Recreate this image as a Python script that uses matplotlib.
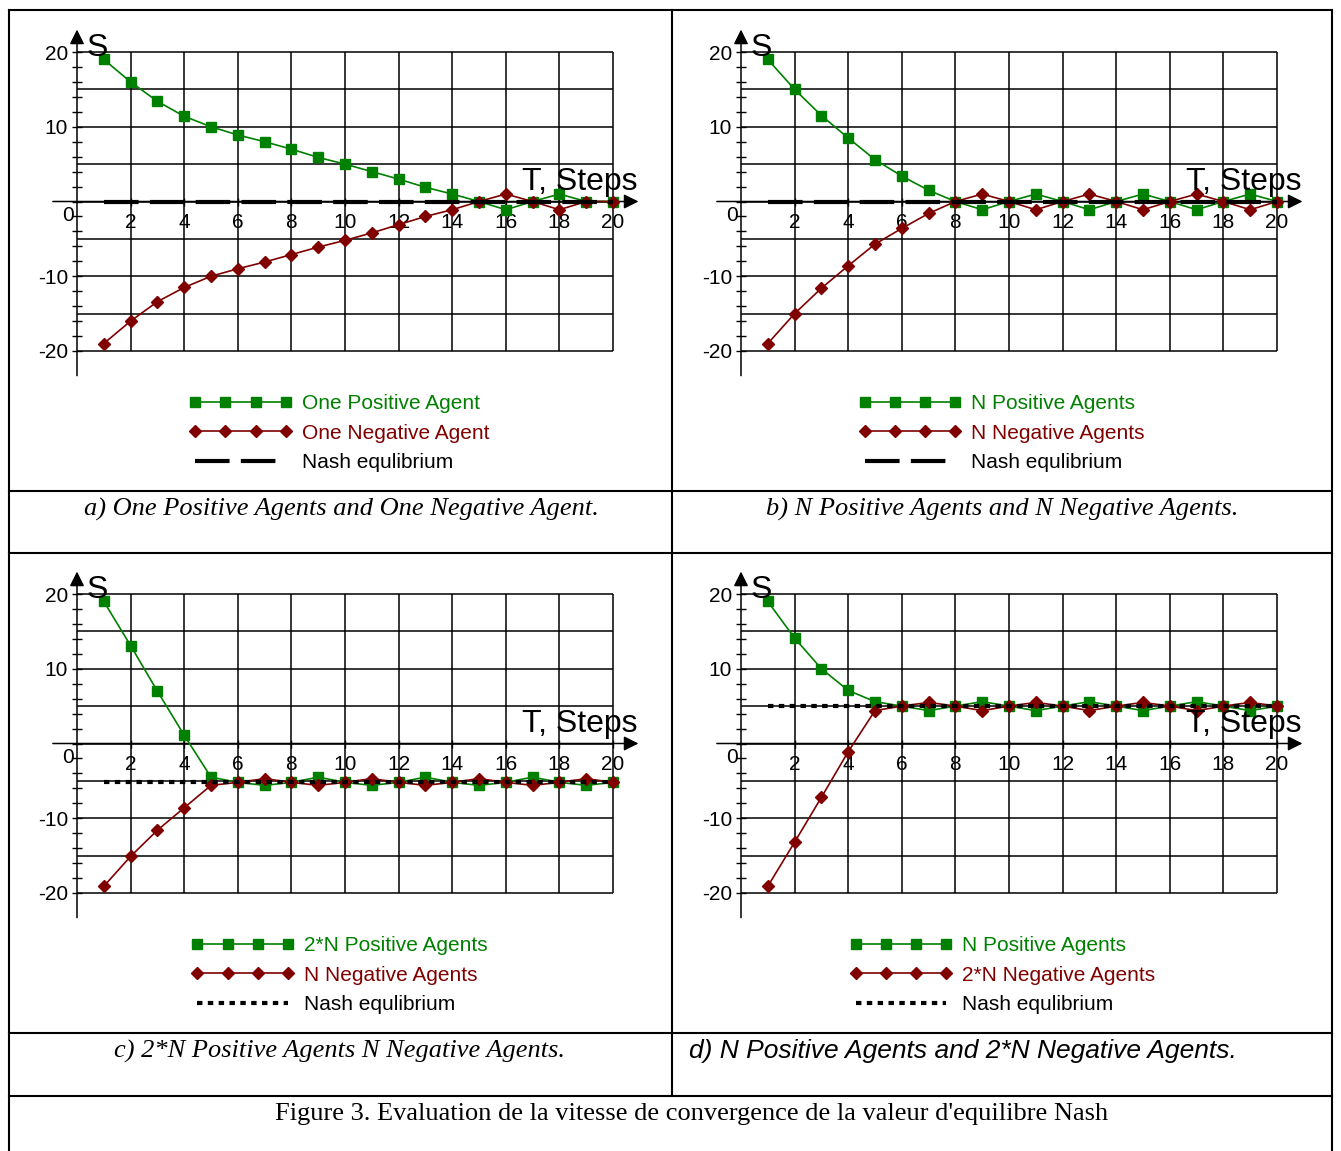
import numpy as np
import matplotlib.pyplot as plt
from matplotlib.lines import Line2D

plt.rcParams['font.family'] = 'Liberation Sans'
plt.rcParams['axes.unicode_minus'] = False

#-----DATA-----#
steps = list(range(1, 21))

pos_a = [19, 16, 13.4, 11.4, 10, 8.9, 8.0, 7.0, 5.9, 5.0, 4.0, 3.0, 1.9, 1.0, 0, -1.1, 0, 1.0, 0, 0]
neg_a = [-19, -16, -13.4, -11.5, -10, -9.0, -8.1, -7.1, -6.1, -5.2, -4.2, -3.1, -2.0, -1.1, 0, 1.0, 0, -1.1, 0, 0]
nash_a = 0

pos_b = [19, 15, 11.5, 8.5, 5.6, 3.4, 1.5, 0, -1.1, 0, 1.0, 0, -1.1, 0, 1.0, 0, -1.1, 0, 1.0, 0]
neg_b = [-19, -15, -11.6, -8.6, -5.7, -3.6, -1.6, 0, 1.0, 0, -1.1, 0, 1.0, 0, -1.1, 0, 1.0, 0, -1.1, 0]
nash_b = 0

pos_c = [19, 13.1, 7.0, 1.1, -4.5, -5.2, -5.6, -5.2, -4.5, -5.2, -5.6, -5.2, -4.5, -5.2, -5.6, -5.2, -4.5, -5.2, -5.6, -5.2]
neg_c = [-19.1, -15.1, -11.6, -8.6, -5.6, -5.2, -4.7, -5.2, -5.6, -5.2, -4.7, -5.2, -5.6, -5.2, -4.7, -5.2, -5.6, -5.2, -4.7, -5.2]
nash_c = -5.2

pos_d = [19, 14.1, 10.0, 7.1, 5.6, 5.0, 4.4, 5.0, 5.6, 5.0, 4.4, 5.0, 5.6, 5.0, 4.4, 5.0, 5.6, 5.0, 4.4, 5.0]
neg_d = [-19.1, -13.2, -7.2, -1.1, 4.4, 5.0, 5.5, 5.0, 4.4, 5.0, 5.5, 5.0, 4.4, 5.0, 5.5, 5.0, 4.4, 5.0, 5.5, 5.0]
nash_d = 5.0

labels_a = ["One Positive Agent", "One Negative Agent", "Nash equlibrium"]
labels_b = ["N Positive Agents", "N Negative Agents", "Nash equlibrium"]
labels_c = ["2*N Positive Agents", "N Negative Agents", "Nash equlibrium"]
labels_d = ["N Positive Agents", "2*N Negative Agents", "Nash equlibrium"]

captions = ["a) One Positive Agents and One Negative Agent.",
            "b) N Positive Agents and N Negative Agents.",
            "c) 2*N Positive Agents N Negative Agents.",
            "d) N Positive Agents and 2*N Negative Agents."]
fig_caption = "Figure 3. Evaluation de la vitesse de convergence de la valeur d'equilibre Nash"
#-----DATA-----#

W, H = 1341, 1151
green = '#008000'
red = '#800000'
dashed = (0, (8.3, 2.7))
dotted = (0, (1.3, 1.3))


def fx(x):
    return x / W


def fy(y):
    return 1 - y / H


fig = plt.figure(figsize=(W / 100, H / 100), dpi=100)


#-----one panel-----#
def draw_panel(rect, pos, neg, nash, nash_ls, labels, leg_x):
    ax = fig.add_axes(rect)
    ax.set_xlim(0, 20)
    ax.set_ylim(-20, 20)
    for s in ax.spines.values():
        s.set_visible(False)
    ax.spines['bottom'].set_position(('data', 0))
    ax.spines['left'].set_position(('data', 0))

    # grid
    ax.vlines(range(2, 21, 2), -20, 20, colors='black', lw=1.1, clip_on=False, zorder=1)
    ax.hlines(range(-20, 21, 5), 0, 20, colors='black', lw=1.1, clip_on=False, zorder=1)

    # arrows for the axes
    arr = dict(arrowstyle='-|>', color='black', lw=1.1, mutation_scale=22, shrinkA=0, shrinkB=0)
    ax.annotate('', xy=(20.95, 0), xytext=(-0.9, 0), arrowprops=arr, annotation_clip=False)
    ax.annotate('', xy=(0, 23.0), xytext=(0, -23.3), arrowprops=arr, annotation_clip=False)

    ax.plot(steps, pos, color=green, marker='s', ms=7, lw=1.2, label=labels[0], clip_on=False, zorder=3)
    ax.plot(steps, neg, color=red, marker='D', ms=6, lw=1.2, label=labels[1], clip_on=False, zorder=3)
    ax.plot([steps[0], steps[-1]], [nash, nash], color='black', lw=3, ls=nash_ls,
            label=labels[2], clip_on=False, zorder=4)

    ax.set_xticks(range(2, 21, 2))
    ax.set_yticks([-20, -10, 10, 20])
    ax.set_yticks(range(-20, 21, 2), minor=True)
    ax.tick_params(axis='x', direction='inout', length=6, width=1, pad=5, labelsize=15)
    ax.tick_params(axis='y', which='both', direction='inout', length=7, width=1, pad=3, labelsize=15)
    ax.text(-0.1, -1.9, "0", fontsize=15, ha='right', va='center')
    ax.text(0.35, 20.6, "S", fontsize=23, ha='left', va='center')
    ax.text(20.9, 2.6, "T, Steps", fontsize=23, ha='right', va='center')

    ax.legend(loc='upper left', bbox_to_anchor=(leg_x, -0.145), frameon=False, fontsize=15,
              numpoints=4, handlelength=4.95, handletextpad=0.45, borderpad=0,
              borderaxespad=0, labelspacing=0.5, labelcolor='linecolor')
    return ax
#-----one panel-----#


axw = (613 - 77) / W
axh = (351 - 52) / H
draw_panel([fx(77), fy(351), axw, axh], pos_a, neg_a, nash_a, dashed, labels_a, 0.209)
draw_panel([fx(741), fy(351), axw, axh], pos_b, neg_b, nash_b, dashed, labels_b, 0.219)
draw_panel([fx(77), fy(893), axw, axh], pos_c, neg_c, nash_c, dotted, labels_c, 0.213)
draw_panel([fx(741), fy(893), axw, axh], pos_d, neg_d, nash_d, dotted, labels_d, 0.202)

#-----captions-----#
serif_it = dict(family='Liberation Serif', style='italic', fontsize=19, va='center')
fig.text(fx(341), fy(509), captions[0], ha='center', **serif_it)
fig.text(fx(1002), fy(509), captions[1], ha='center', **serif_it)
fig.text(fx(340), fy(1051), captions[2], ha='center', **serif_it)
fig.text(fx(689), fy(1051), captions[3], ha='left', va='center', family='Liberation Sans',
         style='italic', fontsize=19)
fig.text(fx(692), fy(1114), fig_caption, ha='center', va='center', family='Liberation Serif', fontsize=19)

#-----table borders-----#
def hline(y, x0=9, x1=1332):
    fig.add_artist(Line2D([fx(x0), fx(x1)], [fy(y), fy(y)], color='black', lw=1.5))


def vline(x, y0, y1):
    fig.add_artist(Line2D([fx(x), fx(x)], [fy(y0), fy(y1)], color='black', lw=1.5))


for yy in [10, 491, 553, 1033, 1096]:
    hline(yy)
vline(9, 10, 1151)
vline(1332, 10, 1151)
vline(672, 10, 1096)

plt.savefig('out.png', dpi=100)
